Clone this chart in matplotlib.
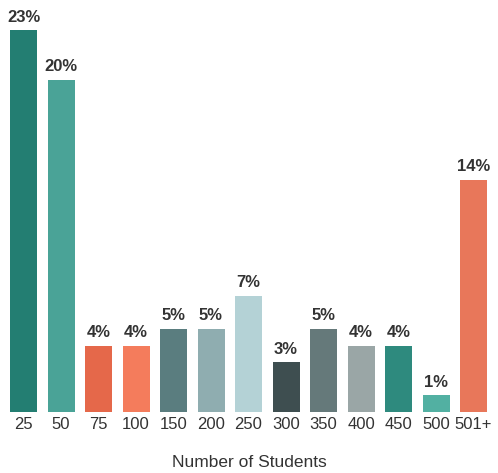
import matplotlib
matplotlib.use("Agg")
import matplotlib.pyplot as plt

plt.rcParams['font.family'] = ['Liberation Sans', 'DejaVu Sans']

categories = ["25", "50", "75", "100", "150", "200", "250", "300", "350", "400", "450", "500", "501+"]
percentages = [23, 20, 4, 4, 5, 5, 7, 3, 5, 4, 4, 1, 14]
colors = ["#237e72", "#4aa397", "#e5684a", "#f47c5c", "#5a7d7f", "#8fadb0", "#b4d2d6",
          "#3e4e50", "#65797a", "#9aa6a6", "#2e8a7e", "#52b0a2", "#e8775a"]

fig = plt.figure(figsize=(4.98, 4.73), dpi=100)
ax = fig.add_axes([4.75 / 498, 61 / 473, (492.25 - 4.75) / 498, 412 / 473])

x = range(len(categories))
bars = ax.bar(x, percentages, width=0.72, color=colors)

for xi, v in zip(x, percentages):
    ax.annotate(f"{v}%", (xi, v), xytext=(0, 4), textcoords="offset points",
                ha="center", va="bottom", fontsize=12, fontweight="bold",
                color="#333333", clip_on=False)

ax.set_xlim(-0.5, len(categories) - 0.5)
ax.set_ylim(0, 412 / 16.6)
ax.set_xticks(list(x))
ax.set_xticklabels(categories, fontsize=12, color="#333333")
ax.tick_params(axis="x", length=0, pad=3.5)
ax.set_yticks([])
for s in ax.spines.values():
    s.set_visible(False)

fig.text(0.5, 1 - 462 / 473, "Number of Students", ha="center", va="center",
         fontsize=12.5, color="#333333")

fig.savefig("out.png", dpi=100, facecolor="white")
